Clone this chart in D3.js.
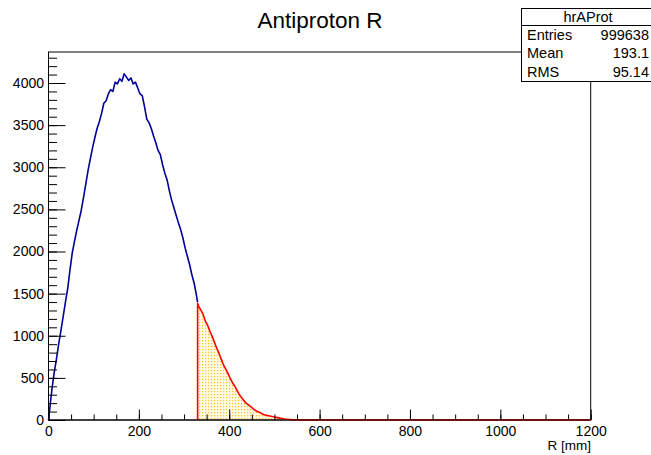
<!DOCTYPE html>
<html>
<head>
<meta charset="utf-8">
<script src="https://cdn.jsdelivr.net/npm/d3@7"></script>
<style>
  html, body { margin: 0; padding: 0; background: #fff; }
  svg { display: block; font-family: "Liberation Sans", Arial, Helvetica, sans-serif; }
</style>
</head>
<body>
<svg id="canvas" width="651" height="455"></svg>
<script>
// histogram, 5 mm bins, counts per 1 mm bin
const binWidth = 5;
const cutR = 330;
const blueCounts = [
  120, 360, 560, 720, 900, 1060, 1230, 1400, 1560, 1780,
  1980, 2120, 2250, 2370, 2490, 2640, 2800, 2960, 3100, 3230,
  3350, 3460, 3540, 3640, 3760, 3790, 3870, 3920, 3900, 4010,
  3990, 4050, 4020, 4110, 4070, 4030, 4060, 3990, 4010, 3940,
  3870, 3850, 3720, 3570, 3530, 3460, 3370, 3290, 3200, 3150,
  3030, 2930, 2850, 2720, 2610, 2520, 2430, 2340, 2260, 2160,
  2040, 1940, 1840, 1720, 1620, 1480
];
const blueEnd = 1400;
const redCounts = [
  1350, 1300, 1250, 1170, 1120, 1050, 990, 920, 850, 790,
  720, 650, 600, 550, 490, 440, 400, 350, 300, 265,
  230, 200, 180, 160, 135, 115, 100, 90, 75, 62,
  55, 50, 44, 38, 33, 28, 22, 17, 12, 9,
  6, 4, 3, 2, 1, 1
];
const redStart = 1385;
const xTicks = [0, 200, 400, 600, 800, 1000, 1200];
const yTicks = [0, 500, 1000, 1500, 2000, 2500, 3000, 3500, 4000];
const statsRows = [["Entries", "999638"], ["Mean", "193.1"], ["RMS", "95.14"]];

const svg = d3.select("#canvas");

const x = d3.scaleLinear().domain([0, 1200]).range([48.5, 590.7]);
const y = d3.scaleLinear().domain([0, 4368]).range([420, 52]);

// dotted fill for the red part
const defs = svg.append("defs");
const pat = defs.append("pattern")
    .attr("id", "dots")
    .attr("patternUnits", "userSpaceOnUse")
    .attr("width", 3)
    .attr("height", 3);
pat.append("rect").attr("width", 3).attr("height", 3).attr("fill", "#fffae0");
pat.append("rect").attr("x", 1).attr("y", 1).attr("width", 1.2).attr("height", 1.2).attr("fill", "#f2c230");

// bin centres, joined as a line (1 mm bins look like this at this size)
function centres(counts, start) {
    return counts.map((v, i) => [start + (i + 0.5) * binWidth, v]);
}

const line = d3.line().x(d => x(d[0])).y(d => y(d[1]));

const bluePts = [[0, 0], ...centres(blueCounts, 0), [cutR, blueEnd]];
const redPts = [[cutR, 0], [cutR, redStart], ...centres(redCounts, cutR),
    [cutR + redCounts.length * binWidth, 0], [1200, 0]];

svg.append("path")
    .attr("d", line(redPts) + "Z")
    .attr("fill", "url(#dots)")
    .attr("stroke", "none");

// frame
svg.append("rect")
    .attr("x", x(0)).attr("y", y(4368))
    .attr("width", x(1200) - x(0)).attr("height", y(0) - y(4368))
    .attr("fill", "none").attr("stroke", "#000").attr("stroke-width", 1);

svg.append("path")
    .attr("d", line(bluePts))
    .attr("fill", "none")
    .attr("stroke", "#000099")
    .attr("stroke-width", 1.6)
    .attr("stroke-linejoin", "round");

svg.append("path")
    .attr("d", line(redPts))
    .attr("fill", "none")
    .attr("stroke", "#ff0000")
    .attr("stroke-width", 1.6)
    .attr("stroke-linejoin", "round");

// x axis
const xAxis = svg.append("g").attr("transform", `translate(0,${y(0)})`);
xAxis.call(d3.axisBottom(x).tickValues(d3.range(0, 1201, 50)).tickSize(-5.5).tickFormat(""))
    .call(g => g.select(".domain").remove());
xAxis.append("g").call(d3.axisBottom(x).tickValues(xTicks).tickSize(-10.5).tickPadding(6).tickFormat(d3.format("d")))
    .call(g => g.select(".domain").remove());
xAxis.append("line").attr("x1", x(0)).attr("x2", x(1200)).attr("stroke", "#000");

// y axis
const yAxis = svg.append("g").attr("transform", `translate(${x(0)},0)`);
yAxis.call(d3.axisLeft(y).tickValues(d3.range(0, 4368, 100)).tickSize(-8.5).tickFormat(""))
    .call(g => g.select(".domain").remove());
yAxis.append("g").call(d3.axisLeft(y).tickValues(yTicks).tickSize(-17).tickPadding(4.5).tickFormat(d3.format("d")))
    .call(g => g.select(".domain").remove());

svg.selectAll(".tick line").attr("stroke", "#000");
svg.selectAll(".tick text").attr("font-size", 14).attr("fill", "#000")
    .attr("font-family", "Liberation Sans, Arial, sans-serif");

// x title
svg.append("text")
    .attr("x", 591).attr("y", 450)
    .attr("text-anchor", "end")
    .attr("font-size", 13.5)
    .text("R [mm]");

// title
svg.append("text")
    .attr("x", 320).attr("y", 28)
    .attr("text-anchor", "middle")
    .attr("font-size", 22.5)
    .text("Antiproton R");

// stats box
const sb = svg.append("g");
sb.append("rect")
    .attr("x", 521.5).attr("y", 8.5).attr("width", 140).attr("height", 73)
    .attr("fill", "#fff").attr("stroke", "#000");
sb.append("line").attr("x1", 521.5).attr("x2", 651).attr("y1", 25.5).attr("y2", 25.5).attr("stroke", "#000");
sb.append("text").attr("x", 588).attr("y", 21.5).attr("text-anchor", "middle").attr("font-size", 14.5).text("hrAProt");
statsRows.forEach((r, i) => {
    const yy = 40 + i * 18.3;
    sb.append("text").attr("x", 527).attr("y", yy).attr("font-size", 14.5).text(r[0]);
    sb.append("text").attr("x", 649).attr("y", yy).attr("text-anchor", "end").attr("font-size", 14.5).text(r[1]);
});
</script>
</body>
</html>
